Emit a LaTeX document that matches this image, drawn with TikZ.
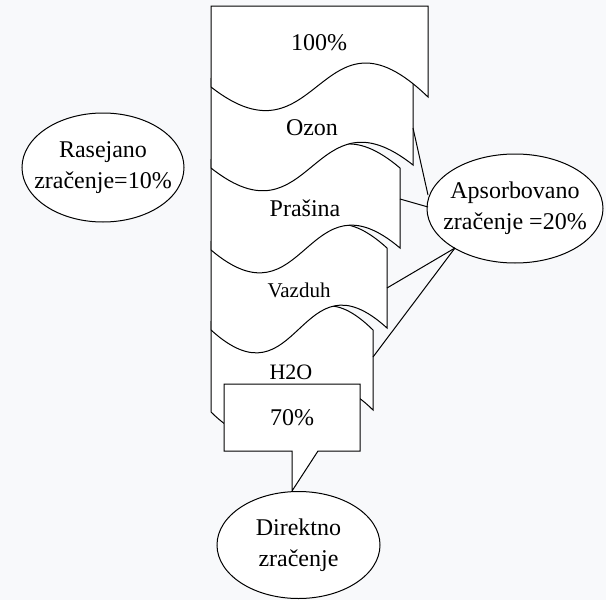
\documentclass[tikz,border=0pt]{standalone}
\usepackage{fontspec}
\setmainfont{Liberation Serif}
\newfontfamily\tnr{Liberation Serif}
\usetikzlibrary{shapes.geometric}
\definecolor{bg}{HTML}{F8F9FB}
\begin{document}
\begin{tikzpicture}[x=1pt,y=-1pt,
  shp/.style={draw=black, fill=white, line width=1pt, line join=miter},
  lbl/.style={font=\tnr\fontsize{24}{31}\selectfont, inner sep=0pt, align=center},
  oval/.style={ellipse, draw=black, fill=white, line width=1pt, inner sep=0pt},
  ln/.style={draw=black, line width=1pt}]
\fill[bg] (0,0) rectangle (606,600);
\useasboundingbox (0,0) rectangle (606,600);

% shape 5 : H2O
\draw[shp] (211,322) .. controls (292,402) and (292,250) .. (373,330) -- (373,410)
  .. controls (292,330) and (292,492) .. (211,412) -- cycle;
% shape 4 : Vazduh
\draw[shp] (211,242) .. controls (299,322) and (299,168) .. (387,248) -- (387,328)
  .. controls (299,248) and (299,410) .. (211,330) -- cycle;
% shape 3 : Prasina
\draw[shp] (211,160) .. controls (305.5,240) and (305.5,88) .. (400,168) -- (400,248)
  .. controls (305.5,168) and (305.5,330) .. (211,250) -- cycle;
% shape 2 : Ozon
\draw[shp] (211,79) .. controls (312,159) and (312,-2) .. (413,78) -- (413,165)
  .. controls (312,85) and (312,248) .. (211,168) -- cycle;
% shape 1 : 100%
\draw[shp] (211,6) -- (428,6) -- (428,97)
  .. controls (319.5,-8) and (319.5,172) .. (211,87) -- cycle;

% callout 70%
\draw[shp] (224,384) -- (360,384) -- (360,451) -- (318,451) -- (292,491) -- (292,451) -- (224,451) -- cycle;

% labels
\node[lbl] (t100) at (319,43) {100\%};
\node[lbl] (tozon) at (312,128) {Ozon};
\node[lbl] (tpras) at (305,208) {Prašina};
\node[lbl, font=\tnr\fontsize{21}{26}\selectfont] (tvaz) at (299,290) {Vazduh};
\node[lbl, font=\tnr\fontsize{22}{26}\selectfont] (th2o) at (291,372) {H2O};
\node[lbl] (t70) at (292,418) {70\%};

% connector anchor points on the shapes
\coordinate (pozon) at (413,128);
\coordinate (ppras) at (400,199);
\coordinate (pvaz) at (387,288);
\coordinate (ph2o) at (373,357);

% ellipses
\node[oval, minimum width=176pt, minimum height=109pt] (aps) at (515,208.5) {};
\node[lbl] (apst) at (aps.center) {Apsorbovano\\zračenje =20\%};
\coordinate (a1) at (428,195);
\coordinate (a2) at (428,207);
\coordinate (a3) at (455,248);

\draw[ln] (pozon) -- (a1);
\draw[ln] (ppras) -- (a2);
\draw[ln] (pvaz) -- (a3);
\draw[ln] (ph2o) -- (a3);

\node[oval, minimum width=162pt, minimum height=109pt] (ras) at (103,167.5) {};
\node[lbl] (rast) at (ras.center) {Rasejano\\zračenje=10\%};

\node[oval, minimum width=163pt, minimum height=107pt] (dir) at (298.5,545) {};
\node[lbl] (dirt) at (dir.center) {Direktno\\zračenje};
\end{tikzpicture}
\end{document}
